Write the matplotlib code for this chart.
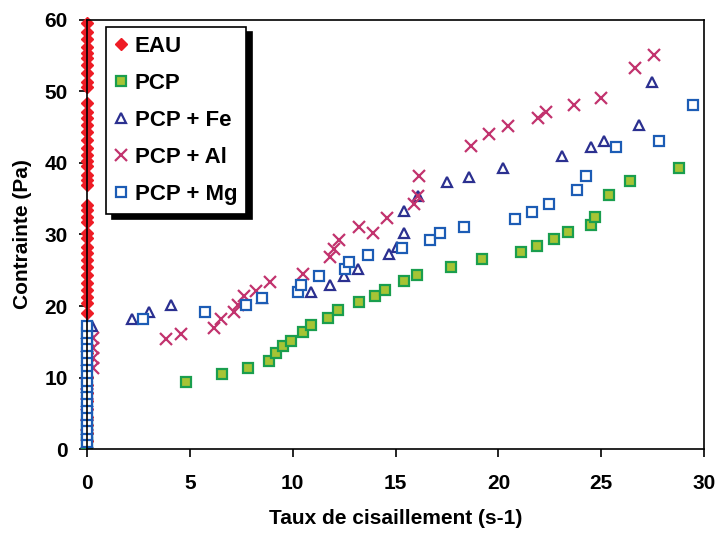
import matplotlib
matplotlib.use("Agg")
import matplotlib.pyplot as plt

plt.rcParams['font.family'] = ['Liberation Sans', 'DejaVu Sans']
plt.rcParams['font.weight'] = 'bold'

# EAU: all points at x = 0
eau_y = [59.5, 58.3, 57.3, 56.2, 55.3, 54.6, 53.6, 52.5, 51.3, 50.6, 48.4, 47.1,
         46.2, 45.3, 44.3, 43.2, 42.0, 41.1, 40.2, 39.5, 38.3, 37.6, 36.9, 34.1,
         33.4, 32.5, 31.8, 30.2, 29.5, 28.3, 27.4, 26.4, 25.5, 24.3, 23.2, 22.2,
         21.3, 20.4, 19.0, 17.4, 15.8, 14.6, 13.5, 12.4, 11.3, 10.1, 9.0, 7.9,
         6.8, 5.6, 4.5, 3.4, 2.3, 1.2]
eau_x = [0.0] * len(eau_y)

# PCP
pcp_x = [0.0, 0.0, 0.0, 4.8, 6.55, 7.85, 8.85, 9.2, 9.55, 9.9, 10.5, 10.9, 11.7,
         12.2, 13.2, 14.0, 14.5, 15.4, 16.05, 17.7, 19.2, 21.1, 21.9, 22.7, 23.4,
         24.5, 24.7, 25.4, 26.4, 28.8]
pcp_y = [0.9, 2.2, 3.6, 9.4, 10.5, 11.3, 12.3, 13.4, 14.4, 15.1, 16.4, 17.4, 18.4,
         19.4, 20.5, 21.4, 22.3, 23.5, 24.4, 25.5, 26.5, 27.5, 28.4, 29.4, 30.4,
         31.3, 32.4, 35.5, 37.4, 39.3]

# PCP + Fe
fe_x = [0.0, 0.0, 0.0, 0.0, 0.0, 0.0, 0.0, 0.0, 0.0, 0.24, 2.19, 3.02, 4.08,
        8.51, 10.89, 11.81, 12.49, 13.17, 14.68, 15.07, 15.41, 15.41, 16.09,
        17.5, 18.57, 20.22, 23.09, 24.5, 25.13, 26.83, 27.46]
fe_y = [1.0, 2.9, 4.8, 6.8, 8.7, 10.6, 12.5, 14.4, 16.3, 17.2, 18.2, 19.2, 20.1,
        21.1, 22.0, 23.0, 24.2, 25.2, 27.3, 28.3, 30.2, 33.3, 35.4,
        37.3, 38.0, 39.3, 41.0, 42.2, 43.0, 45.3, 51.3]

# PCP + Al
al_x = [0.0, 0.0, 0.0, 0.0, 0.0, 0.0, 0.3, 0.3, 0.3, 0.3, 3.84, 4.58, 6.16, 6.5,
        7.15, 7.33, 7.63, 8.23, 8.91, 10.49, 11.81, 12.02, 12.25, 13.24, 13.9,
        14.58, 15.9, 16.08, 16.15, 18.65, 19.56, 20.48, 21.91, 22.31, 23.66,
        24.99, 26.64, 27.56]
al_y = [2.0, 3.4, 4.8, 6.3, 7.7, 9.1, 11.3, 12.8, 14.2, 15.5, 15.4, 16.1, 17.0, 18.2,
        19.2, 20.2, 21.4, 22.1, 23.3, 24.5, 26.9, 28.0, 29.2, 31.1, 30.2,
        32.3, 34.2, 35.3, 38.1, 42.3, 44.0, 45.2, 46.2, 47.1, 48.1,
        49.0, 53.3, 55.0]

# PCP + Mg
mg_x = [0.0] * 18 + [2.71, 5.75, 7.74, 8.51, 10.24, 10.42, 11.26, 12.56, 12.75,
                     13.68, 15.33, 16.66, 17.16, 18.31, 20.82, 21.65, 22.47,
                     23.82, 24.24, 25.73, 27.82, 29.47]
mg_y = [1.0, 2.0, 2.9, 3.9, 4.8, 5.8, 6.8, 7.7, 8.7, 9.6, 10.6, 11.6, 12.5, 13.5,
        14.4, 15.4, 16.3, 17.2,
        18.2, 19.2, 20.2, 21.1, 22.0, 23.0, 24.2, 25.2, 26.1,
        27.1, 28.1, 29.2, 30.2, 31.1, 32.1, 33.1, 34.2,
        36.2, 38.1, 42.2, 43.1, 48.1]

fig = plt.figure(figsize=(7.17, 5.33), dpi=100)
ax = fig.add_axes([0.1213, 0.157, 0.8607, 0.8064])

ax.plot(eau_x, eau_y, linestyle='none', marker='D', ms=6, color='#ee1c25',
        mec='#ee1c25', label='EAU', clip_on=False)
ax.plot(pcp_x, pcp_y, linestyle='none', marker='s', ms=7, mfc='#a6c435',
        mec='#1a9e4e', mew=1.6, label='PCP', clip_on=False)
ax.plot(fe_x, fe_y, linestyle='none', marker='^', ms=7, mfc='white',
        mec='#2b3090', mew=1.6, label='PCP + Fe', clip_on=False)
ax.plot(al_x, al_y, linestyle='none', marker='x', ms=9, color='#c2336e',
        mew=1.6, label='PCP + Al', clip_on=False)
ax.plot(mg_x, mg_y, linestyle='none', marker='s', ms=7.5, mfc='white',
        mec='#1c5cb5', mew=1.6, label='PCP + Mg', clip_on=False)

ax.set_xlim(0, 30)
ax.set_ylim(0, 60)
ax.set_xticks(range(0, 31, 5))
ax.set_yticks(range(0, 61, 10))
ax.tick_params(direction='out', length=6, width=1.2, labelsize=15)
ax.tick_params(axis='x', pad=12)
ax.tick_params(axis='y', pad=8)
for spine in ax.spines.values():
    spine.set_linewidth(1.2)

ax.set_xlabel('Taux de cisaillement (s-1)', fontsize=15, fontweight='bold', labelpad=11)
ax.set_ylabel('Contrainte (Pa)', fontsize=15, fontweight='bold', labelpad=9)

leg = ax.legend(loc='upper left', bbox_to_anchor=(0.031, 0.983), borderaxespad=0,
                fancybox=False, edgecolor='black', framealpha=1,
                shadow={'color': 'black', 'alpha': 1, 'ox': 4, 'oy': -4},
                fontsize=16, labelspacing=0.72, handlelength=0.5,
                handletextpad=0.4, borderpad=0.4)
leg.get_frame().set_linewidth(1.2)

fig.savefig('out.png', dpi=100)
